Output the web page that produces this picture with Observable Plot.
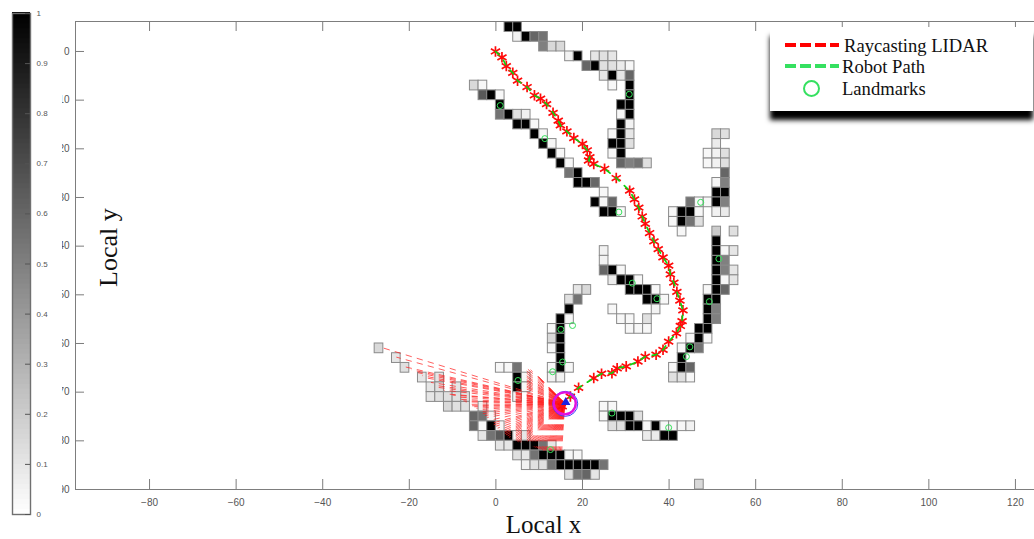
<!DOCTYPE html>
<html><head><meta charset="utf-8">
<script src="https://cdn.jsdelivr.net/npm/d3@7"></script>
<script src="https://cdn.jsdelivr.net/npm/@observablehq/plot@0.6"></script>
<style>
html,body{margin:0;padding:0;background:#fff;}
#wrap{position:relative;width:1034px;height:539px;overflow:hidden;}
#wrap svg{position:absolute;left:0;top:0;display:block;}
#cover{position:absolute;left:52px;top:0;width:9.5px;height:539px;background:#fff;}
#legend{position:absolute;left:770px;top:27px;width:263px;height:84px;background:#fff;box-shadow:0 9px 5px 0 #000;font-family:"Liberation Serif",serif;font-size:18.6px;color:#111;}
#legend span{position:absolute;white-space:nowrap;line-height:20px;}
#legend i{position:absolute;display:block;}
</style></head><body><div id="wrap"></div>
<script>
// occupancy cells: [column, row, value]; a cell spans 2 map units each way
const cellsTop = [
[1,-3,1],[2,-3,1],[2,-2,.05],[3,-2,1],[4,-2,.6],[5,-2,.55],[5,-1,.5],[6,-1,.15],[7,-1,.15],
[8,0,.05],[9,0,1],[11,0,.1],[12,0,.12],[13,0,.1],[10,1,.6],[11,1,1],[12,1,.12],[13,1,.12],[14,1,.08],[15,1,.03],
[12,2,.1],[13,2,1],[14,2,.1],[15,2,.6],[13,3,.03],[15,3,1],[15,4,1],[14,5,1],[15,5,1],[14,6,.03],[15,6,1],
[14,7,1],[15,7,.05],[13,8,.03],[14,8,1],[15,8,.1],[13,9,1],[14,9,1],[15,9,.12],[13,10,.03],[14,10,1],
[14,11,.6],[15,11,.5],[16,11,.55],[17,11,.12]];
const cellsDiagonal = [
[-3,3,.15],[-2,3,.03],[-2,4,.65],[-1,4,1],[0,4,.03],[0,5,1],[0,6,.55],[1,6,1],[2,6,.12],[3,6,.06],[2,7,1],[3,7,1],[4,7,.03],
[4,8,1],[5,8,.03],[5,9,1],[6,9,.03],[6,10,1],[7,10,.03],[7,11,1],[8,11,.03],[8,12,.55],[9,12,1],[9,13,1],[10,13,1],[11,13,.6],
[12,14,.03],[11,15,1],[12,15,.03],[13,15,.6],[12,16,1],[13,16,1],[14,16,.02]];
const cellsRight = [
[25,8,.15],[26,8,.12],[25,9,.08],[24,10,.03],[25,10,.05],[26,10,.12],[24,11,.03],[25,11,.05],[26,11,.12],[26,12,.6],[25,13,.03],[26,13,.5],
[25,14,1],[26,14,1],[22,15,.55],[23,15,.02],[24,15,.03],[25,15,1],[26,15,.5],[20,16,.03],[21,16,1],[22,16,1],[23,16,.03],[25,16,.05],[26,16,.08],
[20,17,.03],[21,17,1],[22,17,.55],[23,17,.12],[21,18,.03],[25,18,.2],[27,18,.12],[25,19,1],[25,20,1],[26,20,.03],[27,20,.1],
[25,21,1],[26,21,.5],[25,22,1],[26,22,.5],[27,22,.1],[25,23,1],[26,23,.03],[27,23,.1],[24,24,.03],[25,24,1],[26,24,.6],
[24,25,1],[25,25,1],[24,26,1],[25,26,.5],[24,27,1],[25,27,.5],[23,28,1],[24,28,1],[22,29,.03],[23,29,1],[24,29,.03],
[21,30,.03],[22,30,1],[23,30,.55],[21,31,1],[20,32,.03],[21,32,1],[22,32,.6],[20,33,.12],[21,33,.12],[22,33,.03]];
const cellsMiddle = [
[12,20,.05],[12,21,.05],[12,22,.6],[13,22,1],[14,22,.03],[13,23,.08],[14,23,1],[15,23,1],[16,23,.03],[15,24,1],[16,24,1],[17,24,1],[18,24,.03],
[17,25,1],[18,25,1],[19,25,.03],[13,26,.03],[18,26,.05],[14,27,.03],[15,27,.03],[17,27,.12],[15,28,.03],[16,28,.03],[17,28,.03]];
const cellsLower = [
[12,36,.03],[13,36,.03],[12,37,.03],[13,37,1],[14,37,1],[15,37,1],[16,37,.12],[13,38,.12],[14,38,.12],[15,38,1],[16,38,1],[17,38,.03],
[18,38,1],[19,38,.03],[20,38,.03],[21,38,.03],[22,38,.05],[17,39,.08],[18,39,.08],[19,39,1],[20,39,1],[23,44,.15]];
const cellsCentre = [
[9,24,.1],[10,24,.15],[8,25,.12],[9,25,.55],[8,26,1],[7,27,1],[8,27,.03],[6,28,.03],[7,28,1],[6,29,.15],[7,29,1],[6,30,.03],[7,30,1],
[7,31,1],[6,32,.03],[7,32,1],[8,32,.03],[6,33,.05],[7,33,.05]];
const cellsWall = [
[-14,30,.15],[-12,31,.1],[-11,32,.12],[0,32,.03],[1,32,.03],[2,32,.55],[-9,33,.1],[-7,33,.1],[2,33,1],[3,33,.03],
[-8,34,.1],[-7,34,.12],[-5,34,.1],[2,34,1],[3,34,.03],[-8,35,.1],[-7,35,.12],[-6,35,.12],[-5,35,.12],[-4,35,.12],[2,35,.05],
[-6,36,.15],[-5,36,.12],[-4,36,.12],[-2,36,.05],[-3,37,.6],[-2,37,.55],[-1,37,.03],[-3,38,.6],[-2,38,.03],[-1,38,1],[0,38,.03],
[-2,39,.1],[-1,39,.55],[0,39,.65],[1,39,1],[2,39,.03],[3,39,.1],[0,40,.1],[1,40,.1],[2,40,1],[3,40,1],[4,40,1],[5,40,.55],[6,40,.1],
[2,41,.12],[3,41,.1],[4,41,.55],[5,41,1],[6,41,1],[7,41,1],[8,41,.03],[9,41,.03],
[3,42,.05],[4,42,.12],[5,42,.12],[6,42,.55],[7,42,1],[8,42,1],[9,42,1],[10,42,1],[11,42,1],[12,42,.55],[8,43,.12],[9,43,.55],[10,43,.6],[11,43,.1]];

const pathX = [-0.1,1.4,2.4,3.9,5,7.2,8.9,10.3,11.7,13.2,14.4,14.9,16.4,18,20,21.1,21.7,21.4,22.6,25.1,27.8,30.9,32,33,33.8,34.5,35.5,36.5,37.5,38.6,39.9,40.3,41.1,41.8,42.5,43.2,43,42.6,41.7,39.9,38.6,37,34.5,32.8,30.1,28,26.8,24.4,22.6,19.1,17.2,15.3];
const pathY = [0,1.2,3,4.4,6,7.3,9,9.7,10.8,12.6,14.2,15.2,16.4,17.8,19,20.3,21.7,22.4,23.1,24.1,26,28.6,30.4,32.1,33.9,35.4,37.3,39,40.6,42.3,44,45.8,47.5,49.4,51.2,53.2,55.4,56.4,57.9,59.6,61.3,62.3,62.7,63.7,64.7,65.1,66.1,66.2,67.1,69.1,70.9,72.9];
const landmarkX = [30.8,1,11.3,28.4,47.3,51.5,31.5,49.3,37.2,44.8,44,26.8,39.9,15,17.7,15.4,13.1,5.1,12.6];
const landmarkY = [8.8,11.1,17.9,33,31,42.6,47.6,51.4,50.8,60.7,62.7,74.3,77.3,57.1,56.3,63.8,65.8,67.6,81.8];
const rayEndX = [-26.5,-23,-21,-19.5,-18,-17,-16.5,-15,-14,-13.5,-12,-11,-10,-9,-8,-7.5,-7,-6,-5.5,-5,-4.5,-4,-3.5,-3,-2.5,-2,-1.5,-1,-.5,0,.4,.8,1.2,1.5,1.9,2.3,2.7,3,3.4,3.8,4.2,4.5,4.9,5.2,5.6,6,6.4,6.8,7.1,7.4,7.7,8,8.3,8.6,8.9,9.2,9.5,9.8,10.1,10.4,10.7,11,11.3,11.6,11.9,12.2,12.5,12.8,13.1,13.4,13.7,14,14.3,14.6,14.9,15.2,6,6,6,6,6,6,6,6,6,6.4,6.8,7.4,8,8.8,9.6,10.3,11,11.8,12.5,13,13.5,14];
const rayEndY = [60.8,62.8,64.8,65.4,66,66.6,67,68,68.6,69,69.6,70.4,70.6,71,71.5,71.8,72,72.5,72.8,73,73.3,73.6,74,74.4,74.8,75.2,75.8,76.4,76.7,77,77.4,77.8,78.1,78.4,78.6,78.8,79,79.3,79.5,79.6,79.8,80,80.1,80.2,80.3,80.4,80.5,80.6,80.7,80.8,80.9,81,81.1,81.2,81.3,81.4,81.5,81.6,81.7,81.8,81.9,82,82,82,82,82,82,82,82,82,82,82,82,82,82,82,69,68.6,68.3,67.9,67.5,67.1,66.8,66.3,65.9,65.6,65.4,65.3,65.4,65.9,66.6,67.5,68.6,69,69.6,70,70.4,70.8];
const robot = {x:15.9,y:72.3};
const xTicks = [-80,-60,-40,-20,0,20,40,60,80,100,120];
const yTicks = [0,10,20,30,40,50,60,70,80,90];
const barTicks = [0,.1,.2,.3,.4,.5,.6,.7,.8,.9,1];
const barLevels = d3.range(0,1,.01);

const allCells = [...cellsTop,...cellsDiagonal,...cellsRight,...cellsMiddle,...cellsLower,...cellsCentre,...cellsWall]
  .map(([c,r,v])=>({c,r,v}));
const path = pathX.map((x,i)=>({x,y:pathY[i]}));
const landmarks = landmarkX.map((x,i)=>({x,y:landmarkY[i]}));
const rays = rayEndX.map((x,i)=>({x,y:rayEndY[i]}));
const grayScale = {type:"linear",domain:[0,1],range:["#ffffff","#000000"]};
const W = 1034, H = 539, ML = 75, MT = 21, MB = 50;
const axisFont = '"Liberation Sans",Arial,sans-serif', serif = '"Liberation Serif",serif';
const plotW = W-ML, plotH = H-MT-MB;

// dash lengths stretch with the ray's slant so the dashes fall on nested square outlines
function rayDash(d){
  const dx = 4.33*Math.abs(d.x-robot.x), dy = 4.87*Math.abs(d.y-robot.y);
  const k = Math.hypot(dx,dy)/Math.max(dx,dy);
  const unit = [6,5,6,5,6,5,6,5,6,5,6,5,6,5,6,5,6,5,6,5];
  return [16,5,...unit,...unit].map(v=>(v*k).toFixed(2)).join(" ");
}

const main = Plot.plot({
  width:W,height:H,marginLeft:ML,marginRight:0,marginTop:MT,marginBottom:MB,
  style:{background:"#fff",overflow:"visible"},
  x:{domain:[-97.1,124.4],axis:null},
  y:{domain:[-6.16,90],reverse:true,axis:null},
  color:grayScale,
  marks:[
    Plot.rect(allCells,{x1:d=>d.c*2,x2:d=>d.c*2+2,y1:d=>d.r*2,y2:d=>d.r*2+2,fill:"v",stroke:"#8a8a8a",strokeWidth:1}),
    ...rays.map(r=>Plot.link([r],{x1:()=>robot.x,y1:()=>robot.y,x2:"x",y2:"y",stroke:"#ff1a1a",strokeWidth:.7,strokeDasharray:rayDash(r)})),
    Plot.dot(path,{x:"x",y:"y",symbol:"asterisk",r:5,stroke:"#ff0a0a",strokeWidth:1.7}),
    Plot.line(path,{x:"x",y:"y",stroke:"#10d010",strokeWidth:1.7,strokeDasharray:"5 7"}),
    Plot.dot(landmarks,{x:"x",y:"y",r:3,stroke:"#35e05a",strokeWidth:1,fill:"none"}),
    Plot.dot([robot],{x:"x",y:"y",r:12.5,stroke:"#4040ff",strokeWidth:1,dx:.5,dy:.5}),
    Plot.dot([robot],{x:"x",y:"y",r:11,stroke:"#e010e0",strokeWidth:2.4}),
    Plot.dot([robot],{x:"x",y:"y",r:3.5,fill:"#ff1010",dx:-2,dy:1}),
    Plot.dot([robot],{x:"x",y:"y",symbol:"triangle",r:3.5,fill:"#2020e0",dx:1,dy:-1}),
    Plot.frame({stroke:"#7d7d7d",strokeWidth:1}),
    Plot.ruleX(xTicks,{x:d=>d,insetTop:plotH-10,stroke:"#7d7d7d"}),
    Plot.ruleX(xTicks,{x:d=>d,insetBottom:plotH-10,stroke:"#7d7d7d"}),
    Plot.ruleY(yTicks,{y:d=>d,insetRight:plotW-9,stroke:"#7d7d7d"}),
    Plot.axisX({ticks:xTicks,anchor:"bottom",tickSize:0,tickPadding:9,label:null,fontSize:10,fill:"#555",fontFamily:axisFont}),
    Plot.axisY({ticks:yTicks,anchor:"left",tickSize:0,tickPadding:6,label:null,fontSize:10,fill:"#555",fontFamily:axisFont}),
    Plot.text(["Local x"],{x:11,y:90,dy:35,text:d=>d,fontSize:25,fontFamily:serif,fill:"#111"}),
    Plot.text(["Local y"],{x:-89.4,y:40.3,text:d=>d,rotate:-90,fontSize:26,fontFamily:serif,fill:"#111"})
  ]
});

const bar = Plot.plot({
  width:60,height:H,marginLeft:12,marginRight:30,marginTop:13,marginBottom:25,
  style:{background:"transparent"},
  x:{domain:[0,1],axis:null},
  y:{domain:[0,1],axis:null},
  color:grayScale,
  marks:[
    Plot.rect(barLevels,{x1:0,x2:1,y1:d=>d,y2:d=>d+.012,fill:d=>d+.005}),
    Plot.frame({stroke:"#707070",strokeWidth:1.4}),
    Plot.ruleY(barTicks,{y:d=>d,insetLeft:13,stroke:"#555"}),
    Plot.axisY({ticks:barTicks,anchor:"right",tickSize:0,tickPadding:6,label:null,fontSize:8,fill:"#555",fontFamily:axisFont,tickFormat:d=>String(d)})
  ]
});

const wrap = document.getElementById("wrap");
wrap.appendChild(main);
const cover = document.createElement("div"); cover.id="cover"; wrap.appendChild(cover);
wrap.appendChild(bar);

const legend = document.createElement("div"); legend.id="legend";
legend.innerHTML =
 '<i style="left:15px;top:16px;width:54px;height:4px;background:repeating-linear-gradient(90deg,#ff0000 0 11px,transparent 11px 15px)"></i>'+
 '<span style="left:74px;top:9px">Raycasting LIDAR</span>'+
 '<i style="left:15px;top:37px;width:54px;height:4px;background:repeating-linear-gradient(90deg,#35e060 0 11px,transparent 11px 15px)"></i>'+
 '<span style="left:72px;top:30px">Robot Path</span>'+
 '<i style="left:33px;top:53px;width:13px;height:13px;border:2.5px solid #35e060;border-radius:50%"></i>'+
 '<span style="left:72px;top:52px">Landmarks</span>';
wrap.appendChild(legend);
</script></body></html>
